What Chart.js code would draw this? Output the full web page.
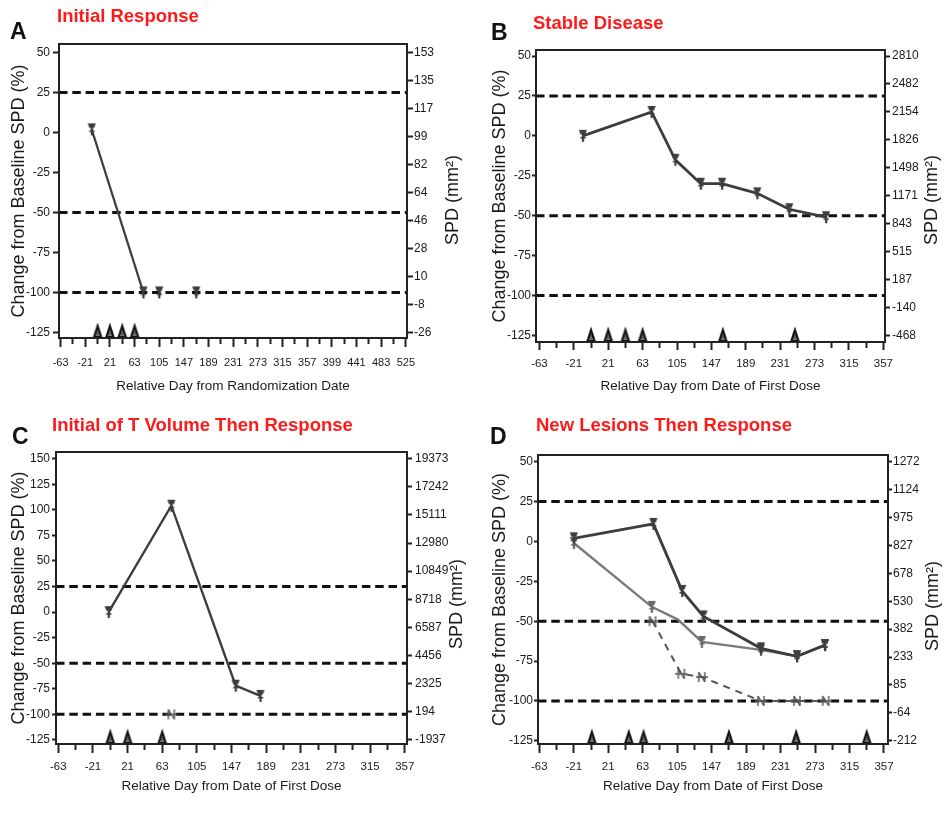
<!DOCTYPE html>
<html><head><meta charset="utf-8">
<script src="https://cdn.jsdelivr.net/npm/chart.js@4.4.1/dist/chart.umd.min.js"></script>
<style>
body{margin:0;background:#fff;width:946px;height:818px;position:relative;overflow:hidden;font-family:"Liberation Sans",Arial,sans-serif}
canvas{position:absolute}
.letter{position:absolute;font-weight:bold;font-size:23px;color:#111;line-height:1}
.ttl{position:absolute;font-weight:bold;font-size:18.5px;color:#ff1a1a;line-height:1;white-space:nowrap}
.rt{position:absolute;font-size:18px;color:#1a1a1a;white-space:nowrap;transform:translate(-50%,-50%) rotate(-90deg);line-height:1}
</style></head><body>
<canvas id="cA" width="473" height="400" style="left:0;top:0"></canvas>
<canvas id="cB" width="473" height="400" style="left:473px;top:0"></canvas>
<canvas id="cC" width="473" height="418" style="left:0;top:400px"></canvas>
<canvas id="cD" width="473" height="418" style="left:473px;top:400px"></canvas>

<div class="letter" style="left:10px;top:20px">A</div>
<div class="ttl" style="left:57px;top:7px">Initial Response</div>
<div class="letter" style="left:491px;top:21px">B</div>
<div class="ttl" style="left:533px;top:14px">Stable Disease</div>
<div class="letter" style="left:12px;top:425px">C</div>
<div class="ttl" style="left:52px;top:416px">Initial of T Volume Then Response</div>
<div class="letter" style="left:490px;top:425px">D</div>
<div class="ttl" style="left:536px;top:416px">New Lesions Then Response</div>

<div class="rt" style="left:452px;top:200px">SPD (mm²)</div>
<div class="rt" style="left:931px;top:200px">SPD (mm²)</div>
<div class="rt" style="left:456px;top:604px">SPD (mm²)</div>
<div class="rt" style="left:932px;top:606px">SPD (mm²)</div>

<script>
// ---------- DATA ----------
const refLevels = [25, -50, -100];

// Panel A
const aDays = [-10, 78];
const aChange = [2, -100];
const aLaterDays = [105, 168];
const aLaterChange = [-100, -100];
const aDoseDays = [0, 21, 42, 63];
const aLeftTicks = [50, 25, 0, -25, -50, -75, -100, -125];
const aRightTicks = [153, 135, 117, 99, 82, 64, 46, 28, 10, -8, -26];
const aXTicks = [-63, -21, 21, 63, 105, 147, 189, 231, 273, 315, 357, 399, 441, 483, 525];

// Panel B
const bDays = [-10, 74, 103, 134, 160, 203, 242, 287];
const bChange = [0, 15, -15, -30, -30, -36, -46, -51];
const bDoseDays = [0, 21, 42, 63, 161, 249];
const bLeftTicks = [50, 25, 0, -25, -50, -75, -100, -125];
const bRightTicks = [2810, 2482, 2154, 1826, 1498, 1171, 843, 515, 187, -140, -468];
const bXTicks = [-63, -21, 21, 63, 105, 147, 189, 231, 273, 315, 357];

// Panel C
const cDays = [-2, 74, 152, 182];
const cChange = [0, 104, -72, -82];
const cNewDays = [74];
const cNewChange = [-100];
const cDoseDays = [0, 21, 63];
const cLeftTicks = [150, 125, 100, 75, 50, 25, 0, -25, -50, -75, -100, -125];
const cRightTicks = [19373, 17242, 15111, 12980, 10849, 8718, 6587, 4456, 2325, 194, -1937];
const cXTicks = [-63, -21, 21, 63, 105, 147, 189, 231, 273, 315, 357];

// Panel D
const dDays1 = [-21, 76, 111, 137, 207, 251, 285];
const dChange1 = [2, 11, -31, -47, -67, -72, -65];
const dDays2 = [-21, 74, 106, 135, 207, 251, 285];
const dChange2 = [-1, -41, -49, -63, -68, -72, -65];
const dMarked2 = [true, true, false, true, true, true, true];
const dNewDays = [75, 110, 135, 207, 251, 286];
const dNewChange = [-50, -83, -85, -100, -100, -100];
const dDoseDays = [1, 46, 64, 168, 250, 336];
const dLeftTicks = [50, 25, 0, -25, -50, -75, -100, -125];
const dRightTicks = [1272, 1124, 975, 827, 678, 530, 382, 233, 85, -64, -212];
const dXTicks = [-63, -21, 21, 63, 105, 147, 189, 231, 273, 315, 357];

// ---------- STYLE ----------
const SANS = '"Liberation Sans",Arial,sans-serif';
const TXT = '#1a1a1a';

function tMarker(color) {
  const c = document.createElement('canvas'); c.width = 10; c.height = 14;
  const g = c.getContext('2d'); g.fillStyle = color;
  g.beginPath(); g.moveTo(1, 1); g.lineTo(9, 1); g.lineTo(7.5, 5.5); g.lineTo(2.5, 5.5); g.closePath(); g.fill();
  g.fillRect(4, 4, 2.2, 9);
  g.fillRect(2.5, 8, 5.2, 1.6);
  return c;
}
function nMarker(color) {
  const c = document.createElement('canvas'); c.width = 12; c.height = 14;
  const g = c.getContext('2d'); g.strokeStyle = color; g.lineWidth = 1.4;
  g.beginPath();
  g.moveTo(3, 2); g.lineTo(3, 12);
  g.moveTo(3, 2); g.lineTo(9, 12);
  g.moveTo(9, 2); g.lineTo(9, 12);
  g.moveTo(0, 7); g.lineTo(12, 7);
  g.stroke();
  return c;
}
function triMarker() {
  const c = document.createElement('canvas'); c.width = 12; c.height = 32;
  const g = c.getContext('2d');
  g.fillStyle = '#111';
  g.beginPath(); g.moveTo(6, 0.5); g.lineTo(11, 16); g.lineTo(1, 16); g.closePath(); g.fill();
  g.fillStyle = '#fff';
  g.beginPath(); g.moveTo(6, 7); g.lineTo(7.6, 14); g.lineTo(4.4, 14); g.closePath(); g.fill();
  g.fillStyle = '#111'; g.fillRect(5.4, 7, 1.2, 9);
  return c;
}

const boxPlugin = {
  id: 'box',
  afterDraw(chart) {
    const { ctx, chartArea: a } = chart;
    ctx.save(); ctx.strokeStyle = '#222'; ctx.lineWidth = 2;
    ctx.strokeRect(a.left, a.top, a.right - a.left, a.bottom - a.top);
    ctx.restore();
  }
};

function pts(xs, ys) { return xs.map((x, i) => ({ x: x, y: ys[i] })); }

function series(xs, ys, color, width, marker, dash, marked) {
  return {
    data: pts(xs, ys), borderColor: color, borderWidth: width, borderDash: dash || [],
    pointStyle: marker, pointRadius: marked ? marked.map(m => m ? 6 : 0) : 6,
    tension: 0, fill: false, yAxisID: 'y'
  };
}
function markersOnly(xs, ys, marker) {
  return { data: pts(xs, ys), showLine: false, pointStyle: marker, pointRadius: 6, yAxisID: 'y' };
}

function makeChart(id, p) {
  const yTop = p.leftTicks[0], yBot = p.leftTicks[p.leftTicks.length - 1];
  const rHi = p.rightTicks[0], rLo = p.rightTicks[p.rightTicks.length - 1];
  const toR = v => rLo + (v - yBot) * (rHi - rLo) / (yTop - yBot);
  const n = p.rightTicks.length - 1;
  const half = (p.xTicks[1] - p.xTicks[0]) / 2;
  const xAll = [];
  for (let v = p.xTicks[0]; v <= p.xTicks[p.xTicks.length - 1]; v += half) xAll.push(v);

  const tri = triMarker();
  const doses = { data: p.doseDays.map(d => ({ x: d, y: p.yMin })), showLine: false,
                  pointStyle: tri, pointRadius: 6, yAxisID: 'y' };
  const refs = refLevels.map(r => ({
    data: [{ x: p.xMin, y: r }, { x: p.xMax, y: r }], borderColor: '#111', borderWidth: 3,
    borderDash: [8.5, 4.8], pointRadius: 0, yAxisID: 'y'
  }));

  new Chart(document.getElementById(id), {
    type: 'line',
    data: { datasets: [...p.datasets, doses, ...refs] },
    options: {
      responsive: false, animation: false, events: [],
      layout: { padding: { top: p.top, left: 0, right: 0, bottom: 0 } },
      plugins: { legend: { display: false }, tooltip: { enabled: false } },
      scales: {
        x: {
          type: 'linear', min: p.xMin, max: p.xMax,
          afterBuildTicks: s => { s.ticks = xAll.map(v => ({ value: v })); },
          afterFit: s => { s.height = p.xH; },
          ticks: { autoSkip: false, maxRotation: 0, minRotation: 0, padding: p.xPad, color: TXT,
                   font: { family: SANS, size: p.xFont },
                   callback: v => p.xTicks.includes(v) ? String(v) : '' },
          grid: { drawOnChartArea: false, drawTicks: true, tickLength: p.xTl, tickWidth: 2, tickColor: '#222',
                  tickBorderDash: c => (c.tick && p.xTicks.includes(c.tick.value)) ? [] : [6, 40] },
          border: { display: false },
          title: { display: true, text: p.xTitle, color: TXT, font: { family: SANS, size: 13.5 },
                   padding: { top: 0, bottom: p.xTitlePad } }
        },
        y: {
          type: 'linear', position: 'left', min: p.yMin, max: p.yMax,
          afterBuildTicks: s => { s.ticks = p.leftTicks.map(v => ({ value: v })); },
          afterFit: s => { s.width = p.lW; },
          ticks: { autoSkip: false, padding: p.lPad, color: TXT, font: { family: SANS, size: 12 } },
          grid: { drawOnChartArea: false, drawTicks: true, tickLength: p.lTl, tickWidth: 2, tickColor: '#222' },
          border: { display: false },
          title: { display: true, text: 'Change from Baseline SPD (%)', color: TXT,
                   font: { family: SANS, size: 18 }, padding: { top: p.lTitlePad, bottom: 0 } }
        },
        y2: {
          type: 'linear', position: 'right', min: toR(p.yMin), max: toR(p.yMax),
          afterBuildTicks: s => { s.ticks = p.rightTicks.map((v, i) => ({ value: rHi - i * (rHi - rLo) / n })); },
          afterFit: s => { s.width = p.rW; },
          ticks: { autoSkip: false, padding: p.rPad, color: TXT, font: { family: SANS, size: 12 },
                   callback: (v, i) => String(p.rightTicks[i]) },
          grid: { drawOnChartArea: false, drawTicks: true, tickLength: p.rTl, tickWidth: 2, tickColor: '#222' },
          border: { display: false },
          title: { display: false }
        }
      }
    },
    plugins: [boxPlugin]
  });
}

const dark = '#3d3d3d';
makeChart('cA', {
  top: 44, lW: 59, rW: 66, xH: 62, xFont: 11,
  lTl: 6, lPad: 3, lTitlePad: 8.4, rTl: 6, rPad: 1, xTl: 9, xPad: 9, xTitlePad: 5.9,
  xMin: -65.7, xMax: 527, yMin: -128.5, yMax: 55.4,
  leftTicks: aLeftTicks, rightTicks: aRightTicks, xTicks: aXTicks, doseDays: aDoseDays,
  xTitle: 'Relative Day from Randomization Date',
  datasets: [series(aDays, aChange, dark, 2.2, tMarker(dark)),
             markersOnly(aLaterDays, aLaterChange, tMarker(dark))]
});
makeChart('cB', {
  top: 50, lW: 63, rW: 61, xH: 58, xFont: 11.5,
  lTl: 4, lPad: 1, lTitlePad: 16.4, rTl: 5, rPad: 2, xTl: 8, xPad: 7, xTitlePad: 5.2,
  xMin: -67.2, xMax: 359, yMin: -129.2, yMax: 53.8,
  leftTicks: bLeftTicks, rightTicks: bRightTicks, xTicks: bXTicks, doseDays: bDoseDays,
  xTitle: 'Relative Day from Date of First Dose',
  datasets: [series(bDays, bChange, dark, 2.8, tMarker(dark))]
});
makeChart('cC', {
  top: 52, lW: 56, rW: 66, xH: 74, xFont: 11.5,
  lTl: 4, lPad: 2, lTitlePad: 8.2, rTl: 5, rPad: 3, xTl: 9, xPad: 7, xTitlePad: 23.2,
  xMin: -65.8, xMax: 359.7, yMin: -129, yMax: 156.5,
  leftTicks: cLeftTicks, rightTicks: cRightTicks, xTicks: cXTicks, doseDays: cDoseDays,
  xTitle: 'Relative Day from Date of First Dose',
  datasets: [series(cDays, cChange, dark, 2.4, tMarker(dark)),
             markersOnly(cNewDays, cNewChange, nMarker('#555'))]
});
makeChart('cD', {
  top: 55, lW: 65, rW: 58, xH: 74, xFont: 11.5,
  lTl: 4, lPad: 1, lTitlePad: 16.4, rTl: 4, rPad: 1, xTl: 9, xPad: 7, xTitlePad: 23.2,
  xMin: -64.6, xMax: 361.9, yMin: -127, yMax: 54.2,
  leftTicks: dLeftTicks, rightTicks: dRightTicks, xTicks: dXTicks, doseDays: dDoseDays,
  xTitle: 'Relative Day from Date of First Dose',
  datasets: [series(dDays1, dChange1, dark, 2.8, tMarker(dark)),
             series(dDays2, dChange2, '#7a7a7a', 2.4, tMarker('#6a6a6a'), null, dMarked2),
             series(dNewDays, dNewChange, '#555', 2, nMarker('#555'), [7, 6])]
});
</script>
</body></html>
